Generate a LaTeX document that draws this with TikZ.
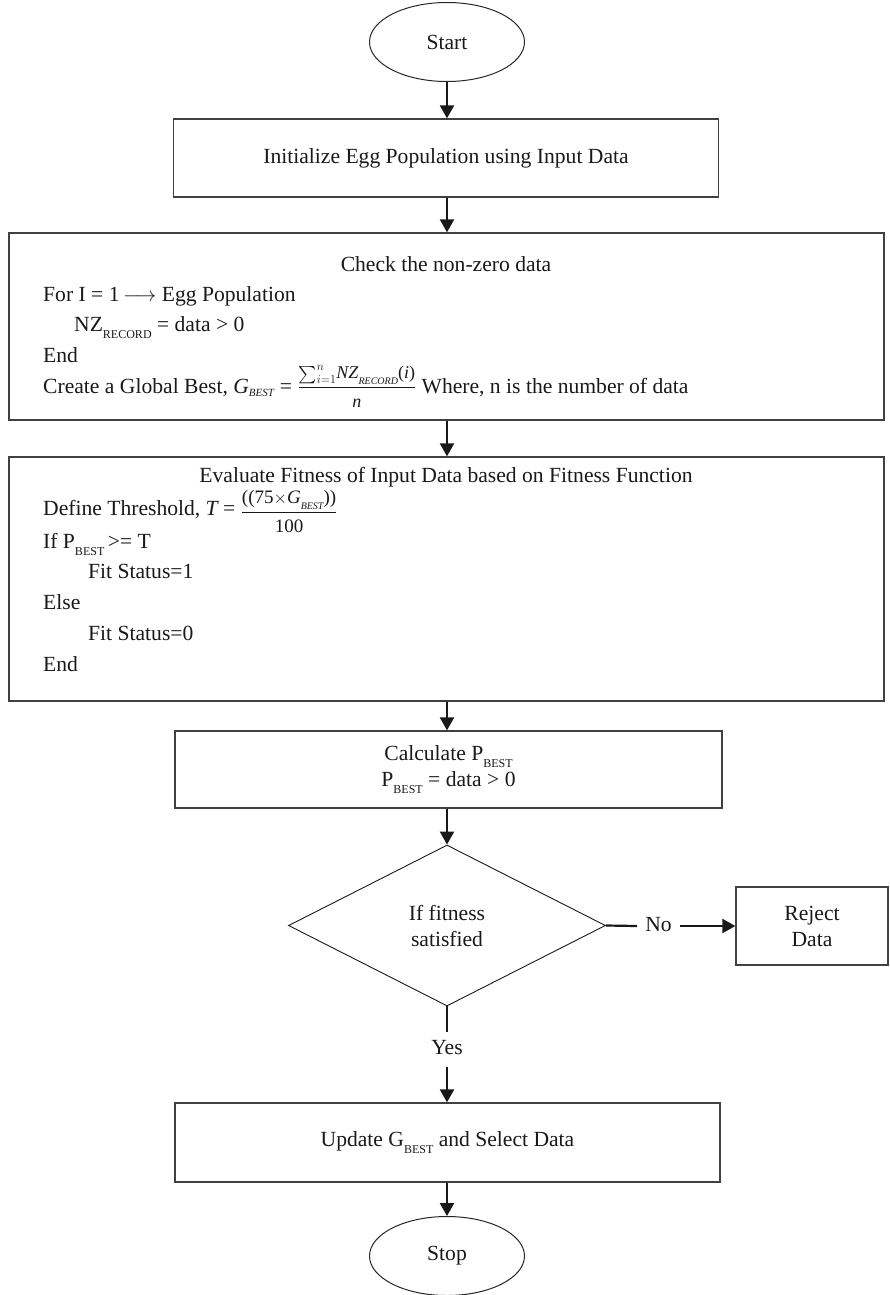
\documentclass[tikz,border=0pt]{standalone}
\usepackage{amsmath}
\usepackage{fontspec}
\setmainfont{Liberation Serif}
\usetikzlibrary{arrows.meta,shapes.geometric}

% small upright subscript for text labels (P_BEST, NZ_RECORD)
\newcommand\smallsub[1]{\raisebox{-0.34em}{\fontsize{12}{12}\selectfont #1}}
% small italic subscript inside formulas
\newcommand\isub[1]{_{\mbox{\fontsize{11}{11}\selectfont\itshape #1}}}
% fraction whose parts are set as text in a given size
\newcommand\ffrac[3]{\dfrac{\mbox{\fontsize{#1}{#1}\selectfont #2}}{\mbox{\fontsize{#1}{#1}\selectfont #3}}}

\begin{document}
\begin{tikzpicture}[x=1pt,y=-1pt,
  every node/.style={font=\fontsize{21.6}{26}\selectfont, text=black!90},
  boxframe/.style={draw=black!75, line width=1.3pt, rectangle, inner sep=0pt},
  term/.style={draw=black!85, line width=1pt, ellipse, inner sep=0pt,
    minimum width=155pt, minimum height=79pt},
  decision/.style={draw=black!90, line width=0.9pt, diamond, inner sep=0pt,
    aspect=1.97, minimum width=317pt, minimum height=161pt, align=center,
    font=\fontsize{21.6}{26}\selectfont},
  codeline/.style={anchor=west, inner sep=0pt, text height=15pt, text depth=5pt},
  title/.style={inner sep=0pt, text height=15pt, text depth=5pt},
  flow/.style={line width=2.2pt, draw=black!90, -{Triangle[width=14pt,length=13pt]}},
  plainline/.style={line width=2.2pt, draw=black!90},
  branch/.style={inner ysep=7.5pt, inner xsep=8pt, text height=15pt, text depth=5pt},
]
\useasboundingbox (0,0) rectangle (889,1295);

% terminals
\node[term] (start) at (447,42) {Start};
\node[term] (stop) at (447,1256) {Stop};

% initialisation
\node[boxframe, minimum width=545pt, minimum height=78pt] (init) at (446,158)
  {Initialize Egg Population using Input Data};

% non-zero check block
\node[boxframe, minimum width=875pt, minimum height=187pt] (check) at (446.5,326.5) {};
\node[title] (c0) at (446,266) {Check the non-zero data};
\node[codeline] (c1) at (43,296) {For I = 1$\,\longrightarrow$ Egg Population};
\node[codeline] (c2) at (74,326) {NZ\smallsub{RECORD} = data > 0};
\node[codeline] (c3) at (43,357) {End};
\node[codeline] (c4) at (43,388) {Create a Global Best, $\mathit{G}\isub{BEST}$ =
  $\ffrac{18}{$\sum_{i=1}^{n}$\textit{NZ}\raisebox{-0.3em}{\fontsize{10}{10}\selectfont\itshape RECORD}(\textit{i})}{\textit{n}}$\ Where, n is the number of data};

% fitness evaluation block
\node[boxframe, minimum width=875pt, minimum height=244pt] (eval) at (446.5,579) {};
\node[title] (e0) at (446,477) {Evaluate Fitness of Input Data based on Fitness Function};
\node[codeline] (e1) at (43,510) {Define Threshold, $\mathit{T}$ =
  \raisebox{-3pt}{$\ffrac{19}{((75$\times$\textit{G}\raisebox{-0.3em}{\fontsize{10}{10}\selectfont\itshape BEST}))}{100}$}};
\node[codeline] (e2) at (43,543) {If P\smallsub{BEST}\,>= T};
\node[codeline] (e3) at (88,573) {Fit Status=1};
\node[codeline] (e4) at (43,604) {Else};
\node[codeline] (e5) at (88,635) {Fit Status=0};
\node[codeline] (e6) at (43,666) {End};

% personal best
\node[boxframe, minimum width=547pt, minimum height=77pt, align=center,
  font=\fontsize{21.6}{26.5}\selectfont] (pbest) at (448.5,769.5)
  {Calculate P\smallsub{BEST}\\P\smallsub{BEST} = data > 0};

% decision
\node[decision] (dec) at (447,925.5) {If fitness\\satisfied};
\node[boxframe, minimum width=152pt, minimum height=78pt, align=center,
  font=\fontsize{21.6}{26}\selectfont] (reject) at (812,926) {Reject\\Data};

% update
\node[boxframe, minimum width=545pt, minimum height=79pt] (update) at (447.5,1142.5)
  {Update G\smallsub{BEST} and Select Data};

% branch labels
\node[branch] (no) at (658.5,926) {No};
\node[branch] (yes) at (447,1049.5) {Yes};

% connectors
\draw[flow] (start.south) -- (start.south |- init.north);
\draw[flow] (start.south |- init.south) -- (start.south |- check.north);
\draw[flow] (start.south |- check.south) -- (start.south |- eval.north);
\draw[flow] (start.south |- eval.south) -- (start.south |- pbest.north);
\draw[flow] (start.south |- pbest.south) -- (dec.north);
\draw[plainline] (dec.east) -- (no.west);
\draw[flow] (no.east) -- (no.east -| reject.west);
\draw[plainline] (dec.south) -- (yes.north);
\draw[flow] (yes.south) -- (yes.south |- update.north);
\draw[flow] (start.south |- update.south) -- (stop.north);
\end{tikzpicture}
\end{document}
